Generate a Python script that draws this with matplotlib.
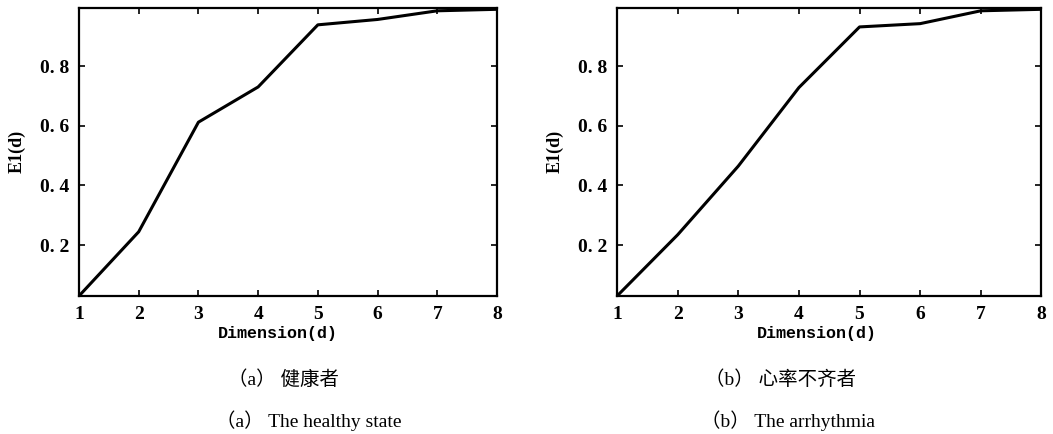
import matplotlib
matplotlib.use('Agg')
import matplotlib.pyplot as plt

dims = [1, 2, 3, 4, 5, 6, 7, 8]
e1_healthy = [0.03, 0.245, 0.612, 0.73, 0.938, 0.956, 0.985, 0.99]
e1_arrhythmia = [0.03, 0.235, 0.465, 0.728, 0.931, 0.942, 0.985, 0.99]
yticks = [0.2, 0.4, 0.6, 0.8]
ytick_labels = ['0. 2', '0. 4', '0. 6', '0. 8']
captions_cn = ['（a） 健康者', '（b） 心率不齐者']
captions_en = ['（a） The healthy state', '（b） The arrhythmia']

SERIF = ['Liberation Serif', 'Noto Sans CJK SC', 'DejaVu Serif']
MONO = ['Liberation Mono', 'DejaVu Sans Mono']

fig = plt.figure(figsize=(10.53, 4.34), dpi=100)
boxes = [[0.075, 0.318, 0.397, 0.664], [0.586, 0.318, 0.403, 0.664]]
cap_x_cn = [228 / 1053, 705 / 1053]
cap_x_en = [216 / 1053, 701 / 1053]
xlabel_x = [0.476, 0.472]

for i, (box, ys) in enumerate(zip(boxes, [e1_healthy, e1_arrhythmia])):
    ax = fig.add_axes(box)
    ax.plot(dims, ys, color='black', lw=2.2)
    ax.set_xlim(1, 8)
    ax.set_ylim(0.03, 0.995)
    ax.set_xticks(dims)
    ax.set_xticklabels([str(d) for d in dims], fontsize=14, fontweight='bold', family=SERIF)
    ax.set_yticks(yticks)
    ax.set_yticklabels(ytick_labels, fontsize=14, fontweight='bold', family=SERIF)
    ax.tick_params(direction='in', top=True, right=True, length=4, width=1.2, pad=7)
    for s in ax.spines.values():
        s.set_linewidth(1.6)
    ax.set_ylabel('E1(d)', fontsize=13, fontweight='bold', family=SERIF, labelpad=10)
    ax.set_xlabel('Dimension(d)', fontsize=12, fontweight='bold', family=MONO, labelpad=1)
    ax.xaxis.set_label_coords(xlabel_x[i], -0.105)
    fig.text(cap_x_cn[i], 1 - 380 / 434, captions_cn[i], ha='left', va='center', fontsize=14, family=SERIF)
    fig.text(cap_x_en[i], 1 - 421 / 434, captions_en[i], ha='left', va='center', fontsize=14, family=SERIF)

fig.savefig('out.png', dpi=100, facecolor='white')
